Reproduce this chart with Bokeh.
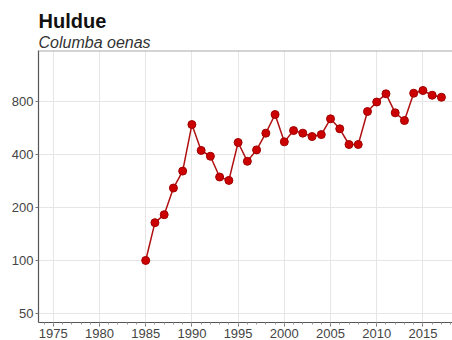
from bokeh.plotting import figure
from bokeh.models import FixedTicker, Title, Span, BasicTickFormatter, Range1d
from bokeh.embed import file_html
from bokeh.resources import INLINE

title = "Huldue"
subtitle = "Columba oenas"
years = list(range(1985, 2018))
index = [100, 164, 182, 258, 322, 592, 422, 391, 298, 285, 468, 366, 425, 529, 675,
         472, 547, 529, 506, 519, 638, 560, 456, 456, 702, 795, 885, 690, 624, 892,
         924, 869, 846]
x_ticks = [1975, 1980, 1985, 1990, 1995, 2000, 2005, 2010, 2015]
y_ticks = [50, 100, 200, 400, 800]

FONT = "Liberation Sans"

p = figure(width=452, height=340, y_axis_type="log", output_backend="svg",
           toolbar_location=None, x_range=Range1d(1973.4, 2018.2),
           y_range=Range1d(44.4, 1560), min_border_left=38, min_border_right=0,
           min_border_top=50, min_border_bottom=0)
p.outline_line_color = None
p.background_fill_color = "white"
p.border_fill_color = "white"

sub = Title(text=subtitle, text_font=FONT, text_font_style="italic",
            text_font_size="16px", text_color="#333333", align="left",
            offset=0, standoff=0)
main = Title(text=title, text_font=FONT, text_font_style="bold",
             text_font_size="20px", text_color="#111111", align="left",
             offset=0, standoff=0)
p.add_layout(sub, "above")
p.add_layout(main, "above")

p.add_layout(Span(location=1560, dimension="width", line_color="#aaaaaa", line_width=2))

p.line(years, index, line_color="#b01010", line_width=1.5)
p.scatter(years, index, size=8, fill_color="#cc0000", line_color="#a00000", line_width=1)

p.xaxis.ticker = FixedTicker(ticks=x_ticks, minor_ticks=list(range(1974, 2019)))
p.yaxis.ticker = FixedTicker(ticks=y_ticks, minor_ticks=[])
p.yaxis.formatter = BasicTickFormatter()

for ax in (p.xaxis[0], p.yaxis[0]):
    ax.axis_line_color = "#555555"
    ax.axis_line_width = 1.2
    ax.major_tick_line_color = "#777777"
    ax.major_tick_in = 0
    ax.major_label_text_font = FONT
    ax.major_label_text_font_size = "13px"
    ax.major_label_text_color = "#444444"
    ax.major_label_standoff = 2
p.xaxis.major_tick_out = 4
p.xaxis.minor_tick_out = 2
p.xaxis.minor_tick_in = 0
p.xaxis.minor_tick_line_color = "#999999"
p.yaxis.major_tick_out = 3
p.yaxis.minor_tick_line_color = None

p.xgrid.grid_line_color = "#e6e6e6"
p.ygrid.grid_line_color = "#e6e6e6"

open("out.html", "w").write(file_html(p, INLINE))
